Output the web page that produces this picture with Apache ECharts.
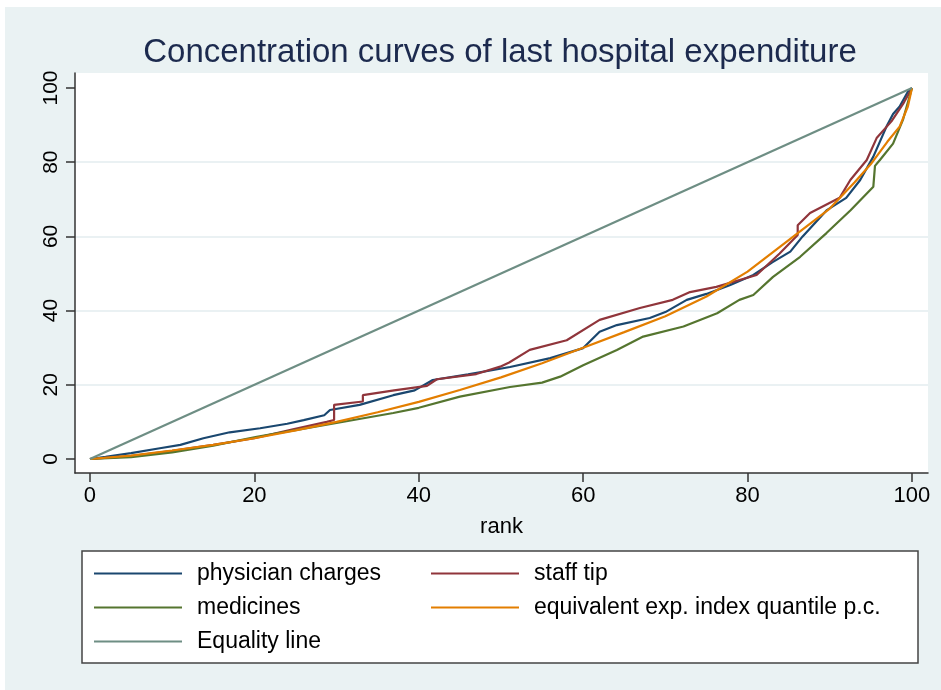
<!DOCTYPE html>
<html>
<head>
<meta charset="utf-8">
<title>Concentration curves</title>
<script src="https://cdn.jsdelivr.net/npm/echarts@6/dist/echarts.min.js"></script>
<style>
    html, body { margin: 0; padding: 0; background: #fff; }
    #main { position: absolute; left: 5px; top: 7px; width: 936px; height: 683px; }
</style>
</head>
<body>
<div id="main"></div>
<script>
    // values (rank -> cumulative share, %)
    var physicianRank = [0, 1.9, 5, 8.5, 11, 13.8, 17, 20.7, 24, 26, 28.5, 29.2, 32.8, 36.9, 39.5, 41.7, 46, 51.1, 56, 60, 62, 64.1, 68.1, 70, 72.6, 75, 77.9, 80.7, 83, 85.2, 86.7, 89.6, 92, 93.7, 95.3, 96.9, 97.7, 98.5, 99.5, 100];
    var physicianVal  = [0, 0.6, 1.6, 2.9, 3.8, 5.6, 7.2, 8.3, 9.5, 10.5, 11.8, 13.2, 14.6, 17.2, 18.5, 21.3, 22.8, 24.8, 27.2, 29.9, 34.3, 36.1, 38, 39.6, 42.9, 44.5, 46.9, 49.6, 53, 55.9, 60, 67, 70.4, 75.2, 81.5, 89.6, 93, 95, 99, 100];

    var staffRank = [0, 5, 10, 15, 20, 24.7, 28.8, 29.7, 29.7, 33.2, 33.2, 37, 41, 42.2, 47, 49.9, 51, 53.5, 58, 62, 66.9, 70.9, 73, 76.2, 81.1, 83.9, 86.1, 86.1, 87.6, 91.2, 92.5, 94.5, 95.7, 97.5, 99, 100];
    var staffVal  = [0, 0.8, 2.2, 3.8, 5.6, 8, 10, 10.5, 14.6, 15.5, 17.2, 18.5, 19.7, 21.5, 22.9, 24.9, 26, 29.4, 32, 37.5, 40.7, 42.9, 45, 46.4, 49.6, 55.4, 60.4, 63, 66.3, 70.4, 75.2, 80.6, 86.5, 91, 96, 100];

    var medicinesRank = [0, 5, 10, 15, 20.3, 25, 30, 36.9, 40, 45, 51.1, 55, 57.2, 60, 64.1, 67.3, 72.2, 76.3, 79, 80.7, 83.1, 86.4, 89.6, 92.5, 95.3, 95.5, 96.1, 97.7, 98.9, 100];
    var medicinesVal  = [0, 0.5, 1.8, 3.6, 6, 7.8, 9.7, 12.4, 13.8, 16.8, 19.4, 20.6, 22.2, 25.3, 29.4, 33, 35.7, 39.3, 42.9, 44.2, 49.1, 54.5, 60.9, 67, 73.4, 79, 80.6, 85, 91.4, 100];

    var equivRank = [0, 5, 10, 15, 20, 25, 30, 35, 40, 45, 50, 55, 60, 65, 70, 75, 80, 85, 90, 93, 95, 97, 98.5, 99.5, 100];
    var equivVal  = [0, 0.9, 2.3, 3.8, 5.6, 7.7, 10, 12.6, 15.4, 18.6, 22, 25.8, 30, 34.2, 38.5, 43.8, 50.5, 59, 67.5, 74.5, 79.5, 85.5, 89.6, 95, 100];

    var equalityRank = [0, 100];
    var equalityVal  = [0, 100];

    var xTicks = [0, 20, 40, 60, 80, 100];
    var yTicks = [0, 20, 40, 60, 80, 100];

    var seriesNames = ['physician charges', 'staff tip', 'medicines', 'equivalent exp. index quantile p.c.', 'Equality line'];
    var seriesColors = ['#1a476f', '#90353b', '#55752f', '#e37e00', '#6e8e84'];

    function pairs(xs, ys) {
        var out = [];
        for (var i = 0; i < xs.length; i++) out.push([xs[i], ys[i]]);
        return out;
    }

    var font = "'Liberation Sans', Arial, Helvetica, sans-serif";
    var myChart = echarts.init(document.getElementById('main'));

    var lineSeries = [
        pairs(physicianRank, physicianVal),
        pairs(staffRank, staffVal),
        pairs(medicinesRank, medicinesVal),
        pairs(equivRank, equivVal),
        pairs(equalityRank, equalityVal)
    ].map(function (d, i) {
        return {
            name: seriesNames[i],
            type: 'line',
            data: d,
            showSymbol: false,
            symbol: 'none',
            lineStyle: { width: 2.2, color: seriesColors[i] },
            itemStyle: { color: seriesColors[i] },
            z: 2 + i
        };
    });

    var legendBase = {
        orient: 'vertical',
        icon: 'rect',
        itemWidth: 88,
        itemHeight: 2,
        itemGap: 11,
        textStyle: { fontFamily: font, fontSize: 23, color: '#000', padding: [0, 0, 0, 10] },
        selectedMode: false,
        padding: 0
    };

    var options = {
        backgroundColor: '#eaf2f3',
        animation: false,
        color: seriesColors,
        title: {
            text: 'Concentration curves of last hospital expenditure',
            left: 490,
            textAlign: 'center',
            top: 24,
            textStyle: { fontFamily: font, fontSize: 33, fontWeight: 'normal', color: '#1c2a4e' }
        },
        grid: {
            left: 70,
            top: 66,
            width: 853,
            height: 400,
            show: true,
            backgroundColor: '#fff',
            borderWidth: 0
        },
        xAxis: {
            type: 'value',
            min: -1.82,
            max: 101.95,
            name: 'rank',
            nameLocation: 'middle',
            nameGap: 43,
            nameTextStyle: { fontFamily: font, fontSize: 22, color: '#000' },
            axisLine: { onZero: false, lineStyle: { color: '#333', width: 1.5 } },
            axisTick: { length: 9, customValues: xTicks, lineStyle: { color: '#333', width: 1.5 } },
            axisLabel: { customValues: xTicks, margin: 12, fontFamily: font, fontSize: 22, color: '#000' },
            splitLine: { show: false }
        },
        yAxis: {
            type: 'value',
            min: -3.77,
            max: 104.04,
            axisLine: { show: true, onZero: false, lineStyle: { color: '#333', width: 1.5 } },
            axisTick: { show: true, length: 9, customValues: yTicks, lineStyle: { color: '#333', width: 1.5 } },
            axisLabel: { customValues: yTicks, rotate: 90, margin: 13, fontFamily: font, fontSize: 21, color: '#000' },
            splitLine: { show: true, showMinLine: false, showMaxLine: false, lineStyle: { color: '#e3ecef', width: 1.5 } }
        },
        legend: [
            Object.assign({}, legendBase, { left: 89, top: 555, data: [seriesNames[0], seriesNames[2], seriesNames[4]] }),
            Object.assign({}, legendBase, { left: 426, top: 555, data: [seriesNames[1], seriesNames[3]] })
        ],
        graphic: [{
            type: 'rect',
            shape: { x: 77, y: 544, width: 836, height: 112 },
            style: { fill: '#fff', stroke: '#444', lineWidth: 1.5 },
            z: 0
        }],
        series: lineSeries
    };

    myChart.setOption(options);
    window.addEventListener('resize', myChart.resize);
</script>
</body>
</html>
